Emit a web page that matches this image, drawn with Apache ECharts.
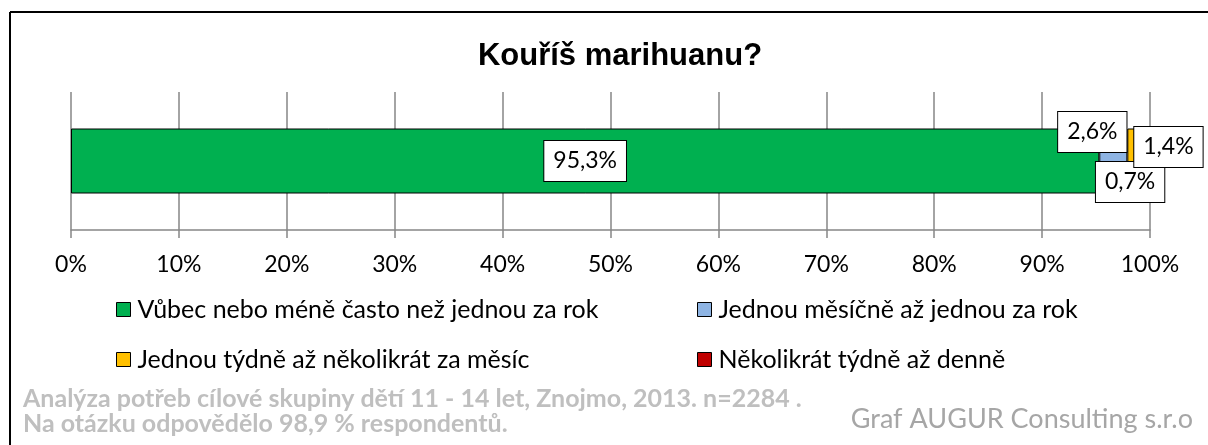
<!DOCTYPE html>
<html>
<head>
<meta charset="utf-8">
<script src="https://cdn.jsdelivr.net/npm/echarts@6/dist/echarts.min.js"></script>
<style>
  html, body { margin: 0; padding: 0; background: #fff; }
  #chart { width: 1208px; height: 445px; }
</style>
</head>
<body>
<div id="chart"></div>
<script>
// data
const categories = [''];
const seriesNames = [
  'Vůbec nebo méně často než jednou za rok',
  'Jednou měsíčně až jednou za rok',
  'Jednou týdně až několikrát za měsíc',
  'Několikrát týdně až denně'
];
const seriesValues = [95.3, 2.6, 0.7, 1.4];
const seriesColors = ['#00B050', '#8EB4E3', '#FFC000', '#C00000'];
// posunutí popisků (jako v originálu ručně posunuté)
const labelOffsets = [[0, 0], [-21, -29], [-1, 21], [26, -14]];
const tickValues = [0, 10, 20, 30, 40, 50, 60, 70, 80, 90, 100];

const font = 'Lato, "Noto Sans", sans-serif';
const fmt = v => v.toFixed(1).replace('.', ',') + '%';

const chart = echarts.init(document.getElementById('chart'));

const series = seriesNames.map((name, i) => ({
  name,
  type: 'bar',
  stack: 'total',
  barWidth: 65,
  data: [seriesValues[i]],
  itemStyle: { color: seriesColors[i], borderColor: '#000', borderWidth: 1 },
  label: {
    show: true,
    position: 'inside',
    offset: labelOffsets[i],
    formatter: p => fmt(p.value),
    color: '#000',
    fontFamily: font,
    fontSize: 23,
    backgroundColor: '#fff',
    borderColor: '#000',
    borderWidth: 1,
    padding: [9, 9, 8, 9]
  }
}));

// legenda ve dvou sloupcích
const legendPos = [[111, 292], [692, 292], [111, 342], [692, 342]];
const legends = seriesNames.map((name, i) => ({
  data: [name],
  left: legendPos[i][0],
  top: legendPos[i][1],
  itemWidth: 14,
  itemHeight: 14,
  itemGap: 0,
  icon: 'rect',
  itemStyle: { borderColor: '#000', borderWidth: 1 },
  textStyle: { fontFamily: font, fontSize: 25, color: '#000', padding: [0, 0, 0, 2] },
  selectedMode: false
}));

const option = {
  animation: false,
  title: {
    text: 'Kouříš marihuanu?',
    left: 615,
    textAlign: 'center',
    top: 36,
    textStyle: { fontFamily: '"Liberation Sans", Arial, sans-serif', fontWeight: 'bold', fontSize: 31, color: '#000' }
  },
  legend: legends,
  grid: { left: 71, right: 58, top: 92, bottom: 215 },
  xAxis: {
    type: 'value',
    min: tickValues[0],
    max: tickValues[tickValues.length - 1],
    interval: 10,
    axisLine: { show: true, lineStyle: { color: '#868686', width: 1.5 } },
    axisTick: { show: true, length: 8, lineStyle: { color: '#868686', width: 1.5 } },
    splitLine: { show: true, lineStyle: { color: '#868686', width: 1.5 } },
    axisLabel: { formatter: '{value}%', fontFamily: font, fontSize: 23, color: '#000', margin: 23 }
  },
  yAxis: {
    type: 'category',
    data: categories,
    axisLine: { show: false },
    axisTick: { show: false },
    axisLabel: { show: false }
  },
  series,
  graphic: [
    { type: 'line', shape: { x1: 10, y1: 12, x2: 1208, y2: 12 }, style: { stroke: '#000', lineWidth: 2 } },
    { type: 'line', shape: { x1: 10, y1: 12, x2: 10, y2: 445 }, style: { stroke: '#000', lineWidth: 2 } },
    {
      type: 'text', left: 23, top: 386,
      style: { text: 'Analýza potřeb cílové skupiny dětí 11 - 14 let, Znojmo, 2013. n=2284 .', fill: '#BFBFBF', font: 'bold 25px ' + font }
    },
    {
      type: 'text', left: 23, top: 411,
      style: { text: 'Na otázku odpovědělo 98,9 % respondentů.', fill: '#BFBFBF', font: 'bold 25px ' + font }
    },
    {
      type: 'text', right: 15, top: 406,
      style: { text: 'Graf AUGUR Consulting s.r.o', fill: '#A6A6A6', font: '27px ' + font }
    }
  ]
};

chart.setOption(option);
</script>
</body>
</html>
